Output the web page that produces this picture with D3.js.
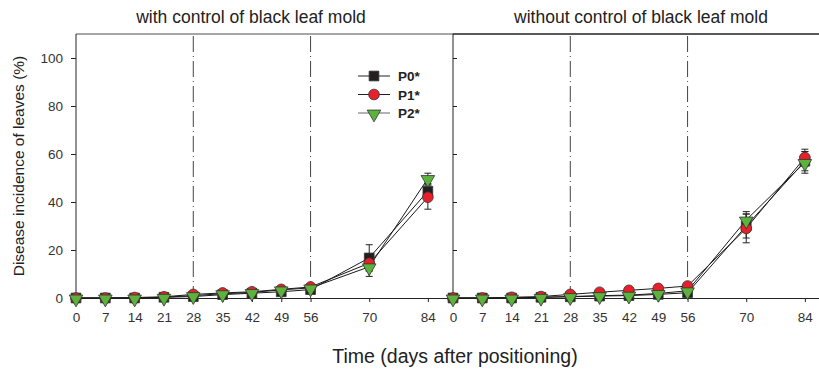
<!DOCTYPE html>
<html>
<head>
<meta charset="utf-8">
<script src="https://cdn.jsdelivr.net/npm/d3@7"></script>
<style>
body { margin: 0; background: #fff; }
svg { font-family: Arial, "Liberation Sans", sans-serif; }
</style>
</head>
<body>
<svg width="819" height="370"></svg>
<script>
var days = [0, 7, 14, 21, 28, 35, 42, 49, 56, 70, 84];
var yTicks = [0, 20, 40, 60, 80, 100];
var periodLines = [28, 56];
var panelTitles = ["with control of black leaf mold", "without control of black leaf mold"];
var seriesNames = ["P0*", "P1*", "P2*"];

// with control
var withP0 = [0, 0, 0, 0.3, 0.6, 1.4, 2.0, 2.6, 3.5, 16.7, 44.5];
var withP1 = [0, 0, 0.2, 0.5, 1.5, 2.1, 2.6, 3.6, 4.6, 14.5, 42.0];
var withP2 = [0, 0, 0, 0.3, 1.0, 1.8, 2.3, 3.4, 4.2, 13.0, 49.8];
var withErr0 = [0, 0, 0, 0, 0, 0, 0, 0, 0, 5.5, 3.0];
var withErr1 = [0, 0, 0, 0, 0, 0, 0, 0, 0, 3.0, 5.0];
var withErr2 = [0, 0, 0, 0, 0, 0, 0, 0, 0, 4.0, 2.2];

// without control
var woP0 = [0, 0, 0, 0.3, 0.5, 0.8, 1.0, 1.5, 2.2, 30.0, 57.0];
var woP1 = [0, 0, 0.3, 0.6, 1.5, 2.4, 3.2, 4.0, 5.0, 29.0, 58.5];
var woP2 = [0, 0, 0, 0.3, 0.6, 1.0, 1.2, 1.9, 3.0, 32.5, 56.5];
var woErr0 = [0, 0, 0, 0, 0, 0, 0, 0, 0, 5.0, 4.0];
var woErr1 = [0, 0, 0, 0, 0, 0, 0, 0, 0, 6.0, 3.5];
var woErr2 = [0, 0, 0, 0, 0, 0, 0, 0, 0, 3.5, 4.5];

var colors = ["#231f20", "#e8202a", "#5cb33b"];
var symbols = [d3.symbolSquare, d3.symbolCircle, d3.symbolTriangle];
var symSizes = [95, 90, 80];

var panels = [
    {x0: 76, series: [withP0, withP1, withP2], errs: [withErr0, withErr1, withErr2], topColor: "#888", titleX: 251},
    {x0: 453, series: [woP0, woP1, woP2], errs: [woErr0, woErr1, woErr2], topColor: "#222", titleX: 641}
];

var svg = d3.select("svg");
var plotTop = 34, plotBottom = 298, panelW = 377;

var yScale = d3.scaleLinear().domain([0, 110]).range([plotBottom, plotTop]);

function marker(i) {
    return d3.symbol().type(symbols[i]).size(symSizes[i])();
}

panels.forEach(function(p, pi) {
    var xScale = d3.scaleLinear().domain([0, 90]).range([p.x0, p.x0 + panelW]);
    var g = svg.append("g");

    // top border
    g.append("line")
        .attr("x1", p.x0).attr("x2", p.x0 + panelW)
        .attr("y1", plotTop).attr("y2", plotTop)
        .attr("stroke", p.topColor).attr("stroke-width", 1.5);

    // period lines
    g.selectAll(".period")
        .data(periodLines)
        .enter()
        .append("line")
        .attr("x1", function(d) { return xScale(d); })
        .attr("x2", function(d) { return xScale(d); })
        .attr("y1", plotTop + 2).attr("y2", plotBottom)
        .attr("stroke", "#444").attr("stroke-width", 1)
        .attr("stroke-dasharray", "16,4,1,4");

    // x axis
    var xAxis = g.append("g")
        .attr("transform", "translate(0," + plotBottom + ")")
        .call(d3.axisBottom(xScale).tickValues(days).tickSize(4).tickSizeOuter(0).tickFormat(d3.format("d")));
    xAxis.select(".domain").attr("stroke", "#222");
    xAxis.selectAll(".tick line").attr("stroke", "#222");
    xAxis.selectAll("text").attr("font-size", 13.5).attr("fill", "#333").attr("y", 24).attr("dy", 0);

    // y axis
    var yAxis;
    if (pi === 0) {
        yAxis = g.append("g")
            .attr("transform", "translate(" + p.x0 + ",0)")
            .call(d3.axisLeft(yScale).tickValues(yTicks).tickSize(5).tickSizeOuter(0).tickPadding(8));
        yAxis.selectAll("text").attr("font-size", 13.5).attr("fill", "#333");
    } else {
        yAxis = g.append("g")
            .attr("transform", "translate(" + p.x0 + ",0)")
            .call(d3.axisRight(yScale).tickValues(yTicks).tickSize(4).tickSizeOuter(0).tickFormat(""));
    }
    yAxis.select(".domain").attr("d", "M0," + plotBottom + "V" + plotTop).attr("stroke", "#222");
    yAxis.selectAll(".tick line").attr("stroke", "#222");

    // title
    g.append("text")
        .attr("x", p.titleX)
        .attr("y", 23)
        .attr("text-anchor", "middle")
        .attr("font-size", 17.5)
        .attr("fill", "#222")
        .text(panelTitles[pi]);

    var line = d3.line()
        .x(function(d) { return xScale(d[0]); })
        .y(function(d) { return yScale(d[1]); });

    // lines
    p.series.forEach(function(vals) {
        g.append("path")
            .datum(days.map(function(d, k) { return [d, vals[k]]; }))
            .attr("d", line)
            .attr("fill", "none")
            .attr("stroke", "#1a1a1a")
            .attr("stroke-width", 1);
    });

    // error bars
    p.series.forEach(function(vals, si) {
        var eb = days.map(function(d, k) { return {d: d, v: vals[k], e: p.errs[si][k]}; })
            .filter(function(o) { return o.e > 0; });
        var eg = g.append("g").attr("stroke", "#222").attr("stroke-width", 1);
        eg.selectAll(".ev").data(eb).enter().append("line")
            .attr("x1", function(o) { return xScale(o.d); })
            .attr("x2", function(o) { return xScale(o.d); })
            .attr("y1", function(o) { return yScale(o.v - o.e); })
            .attr("y2", function(o) { return yScale(o.v + o.e); });
        [1, -1].forEach(function(sgn) {
            eg.selectAll(".ec" + sgn).data(eb).enter().append("line")
                .attr("x1", function(o) { return xScale(o.d) - 3.5; })
                .attr("x2", function(o) { return xScale(o.d) + 3.5; })
                .attr("y1", function(o) { return yScale(o.v + sgn * o.e); })
                .attr("y2", function(o) { return yScale(o.v + sgn * o.e); });
        });
    });

    // markers
    p.series.forEach(function(vals, si) {
        g.selectAll(".m" + si)
            .data(days.map(function(d, k) { return [d, vals[k]]; }))
            .enter()
            .append("path")
            .attr("d", marker(si))
            .attr("transform", function(d) {
                return "translate(" + xScale(d[0]) + "," + yScale(d[1]) + ")" + (si === 2 ? " rotate(180) translate(0,-1)" : "");
            })
            .attr("fill", colors[si])
            .attr("stroke", "#333")
            .attr("stroke-width", 0.8);
    });
});

// legend
var legend = svg.append("g");
seriesNames.forEach(function(name, i) {
    var ly = 76 + i * 18.5;
    legend.append("line")
        .attr("x1", 358).attr("x2", 390)
        .attr("y1", ly).attr("y2", ly)
        .attr("stroke", i === 2 ? "#666" : "#222").attr("stroke-width", 1);
    legend.append("path")
        .attr("d", marker(i))
        .attr("transform", "translate(374," + ly + ")" + (i === 2 ? " rotate(180) translate(0,-1)" : ""))
        .attr("fill", colors[i])
        .attr("stroke", "#333")
        .attr("stroke-width", 0.8);
    legend.append("text")
        .attr("x", 398).attr("y", ly + 5)
        .attr("font-size", 13.5)
        .attr("font-weight", "bold")
        .attr("fill", "#222")
        .text(name);
});

// axis titles
svg.append("text")
    .attr("transform", "translate(24,166) rotate(-90)")
    .attr("text-anchor", "middle")
    .attr("font-size", 15.5)
    .attr("fill", "#222")
    .text("Disease incidence of leaves (%)");

svg.append("text")
    .attr("x", 455).attr("y", 363)
    .attr("text-anchor", "middle")
    .attr("font-size", 19.5)
    .attr("fill", "#222")
    .text("Time (days after positioning)");
</script>
</body>
</html>
